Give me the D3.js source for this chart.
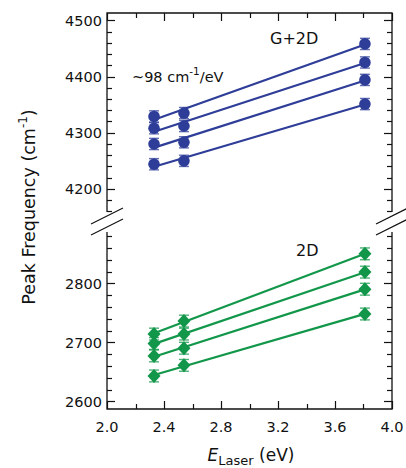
<!DOCTYPE html>
<html><head><meta charset="utf-8">
<script src="https://cdn.jsdelivr.net/npm/d3@7"></script>
<style>
html,body{margin:0;padding:0;background:#fff;}
</style></head>
<body><svg id="chart" width="406" height="468" font-family="DejaVu Sans, Verdana, sans-serif"></svg>
<script>
// ---- data ----
const laserEnergies = [2.33, 2.54, 3.81];
const combSeries = [
  [4329, 4335, 4458],
  [4308, 4312, 4425],
  [4280, 4283, 4394],
  [4244, 4250, 4351]
];
const twoDSeries = [
  [2714, 2736, 2850],
  [2698, 2714, 2819],
  [2677, 2690, 2790],
  [2643, 2661, 2748]
];
const combErr = 10;
const twoDErr = 10;
const xTicks = [2.0, 2.4, 2.8, 3.2, 3.6, 4.0];
const combTicks = [4200, 4300, 4400, 4500];
const twoDTicks = [2600, 2700, 2800];

const blue = "#2e3d98", green = "#12974a";
const svg = d3.select("#chart");
const L = 107, R = 392;
const topP = {y0: 13, y1: 212, dom: [4159, 4513]};
const botP = {y0: 232, y1: 409, dom: [2587, 2887]};

const x = d3.scaleLinear().domain([2.0, 4.0]).range([L, R]);
const yTop = d3.scaleLinear().domain(topP.dom).range([topP.y1, topP.y0]);
const yBot = d3.scaleLinear().domain(botP.dom).range([botP.y1, botP.y0]);

const frame = svg.append("g").attr("stroke", "#111").attr("stroke-width", 1.3).attr("fill", "none");
frame.append("path").attr("d", `M${L},${topP.y1}V${topP.y0}H${R}V${topP.y1}`);
frame.append("path").attr("d", `M${L},${botP.y0}V${botP.y1}H${R}V${botP.y0}`);

function yTicksFor(scale, p, labels) {
  const g = svg.append("g").attr("stroke", "#111").attr("stroke-width", 1.2);
  const lo = Math.ceil(p.dom[0] / 20) * 20, hi = Math.floor(p.dom[1] / 20) * 20;
  for (let v = lo; v <= hi; v += 20) {
    const major = v % 100 === 0;
    const len = major ? 8 : 5;
    const yy = Math.round(scale(v)) + 0.5;
    g.append("line").attr("x1", L).attr("x2", L + len).attr("y1", yy).attr("y2", yy);
    g.append("line").attr("x1", R).attr("x2", R - len).attr("y1", yy).attr("y2", yy);
  }
  svg.append("g").selectAll("text").data(labels).join("text")
    .attr("x", L - 5).attr("y", d => scale(d) + 5.5)
    .attr("text-anchor", "end").attr("font-size", 14.5).attr("fill", "#111").text(d => d);
}
yTicksFor(yTop, topP, combTicks);
yTicksFor(yBot, botP, twoDTicks);

const xg = svg.append("g").attr("stroke", "#111").attr("stroke-width", 1.2);
d3.range(2.0, 4.001, 0.2).forEach(v => {
  const major = Math.abs(Math.round(v * 10) % 4) === 0;
  const len = major ? 8 : 5;
  const xx = Math.round(x(v)) + 0.5;
  xg.append("line").attr("x1", xx).attr("x2", xx).attr("y1", botP.y1).attr("y2", botP.y1 - len);
  xg.append("line").attr("x1", xx).attr("x2", xx).attr("y1", topP.y0).attr("y2", topP.y0 + len);
});
svg.append("g").selectAll("text").data(xTicks).join("text")
  .attr("x", d => x(d)).attr("y", 432).attr("text-anchor", "middle")
  .attr("font-size", 14.5).attr("fill", "#111").text(d => d.toFixed(1));

const br = svg.append("g").attr("stroke", "#111").attr("stroke-width", 1.2);
[L, R].forEach(cx => {
  [216, 227].forEach(cy => {
    br.append("line").attr("x1", cx - 16).attr("y1", cy + 8).attr("x2", cx + 16).attr("y2", cy - 8);
  });
});

function fit(xs, ys) {
  const mx = d3.mean(xs), my = d3.mean(ys);
  let sxy = 0, sxx = 0;
  xs.forEach((xv, i) => { sxy += (xv - mx) * (ys[i] - my); sxx += (xv - mx) ** 2; });
  const b = sxy / sxx;
  return xv => my + b * (xv - mx);
}

function drawSeries(series, yScale, color, err, shape) {
  const g = svg.append("g");
  series.forEach(vals => {
    const f = fit(laserEnergies, vals);
    const x0 = laserEnergies[0], x1 = laserEnergies[laserEnergies.length - 1];
    g.append("line").attr("x1", x(x0)).attr("y1", yScale(f(x0)))
      .attr("x2", x(x1)).attr("y2", yScale(f(x1)))
      .attr("stroke", color).attr("stroke-width", 2.2);
  });
  series.forEach(vals => {
    vals.forEach((v, i) => {
      const cx = x(laserEnergies[i]);
      const eg = g.append("g").attr("stroke", color).attr("stroke-opacity", 0.75).attr("stroke-width", 1.4);
      eg.append("line").attr("x1", cx).attr("x2", cx).attr("y1", yScale(v - err)).attr("y2", yScale(v + err));
      eg.append("line").attr("x1", cx - 5).attr("x2", cx + 5).attr("y1", yScale(v - err)).attr("y2", yScale(v - err));
      eg.append("line").attr("x1", cx - 5).attr("x2", cx + 5).attr("y1", yScale(v + err)).attr("y2", yScale(v + err));
      const cy = yScale(v);
      if (shape === "circle") {
        g.append("circle").attr("cx", cx).attr("cy", cy).attr("r", 5.8).attr("fill", color);
      } else {
        g.append("path").attr("d", `M${cx},${cy - 7}L${cx + 6.5},${cy}L${cx},${cy + 7}L${cx - 6.5},${cy}Z`).attr("fill", color);
      }
    });
  });
}
drawSeries(combSeries, yTop, blue, combErr, "circle");
drawSeries(twoDSeries, yBot, green, twoDErr, "diamond");

svg.append("text").attr("x", 270).attr("y", 44).attr("font-size", 16).attr("fill", "#111").text("G+2D");
const ann = svg.append("text").attr("x", 132).attr("y", 82).attr("font-size", 14.5).attr("fill", "#111");
ann.append("tspan").text("~98 cm");
ann.append("tspan").attr("dy", -7).attr("font-size", 10.5).text("-1");
ann.append("tspan").attr("dy", 7).text("/eV");
svg.append("text").attr("x", 296).attr("y", 256).attr("font-size", 16).attr("fill", "#111").text("2D");

const yl = svg.append("text").attr("transform", "translate(35,207) rotate(-90)")
  .attr("text-anchor", "middle").attr("font-size", 17.5).attr("fill", "#111");
yl.append("tspan").text("Peak Frequency (cm");
yl.append("tspan").attr("dy", -8).attr("font-size", 12).text("-1");
yl.append("tspan").attr("dy", 8).text(")");

const xl = svg.append("text").attr("x", 251).attr("y", 461).attr("text-anchor", "middle").attr("font-size", 17).attr("fill", "#111");
xl.append("tspan").attr("font-style", "italic").text("E");
xl.append("tspan").attr("dy", 4).attr("font-size", 13).text("Laser");
xl.append("tspan").attr("dy", -4).text(" (eV)");
</script></body></html>
